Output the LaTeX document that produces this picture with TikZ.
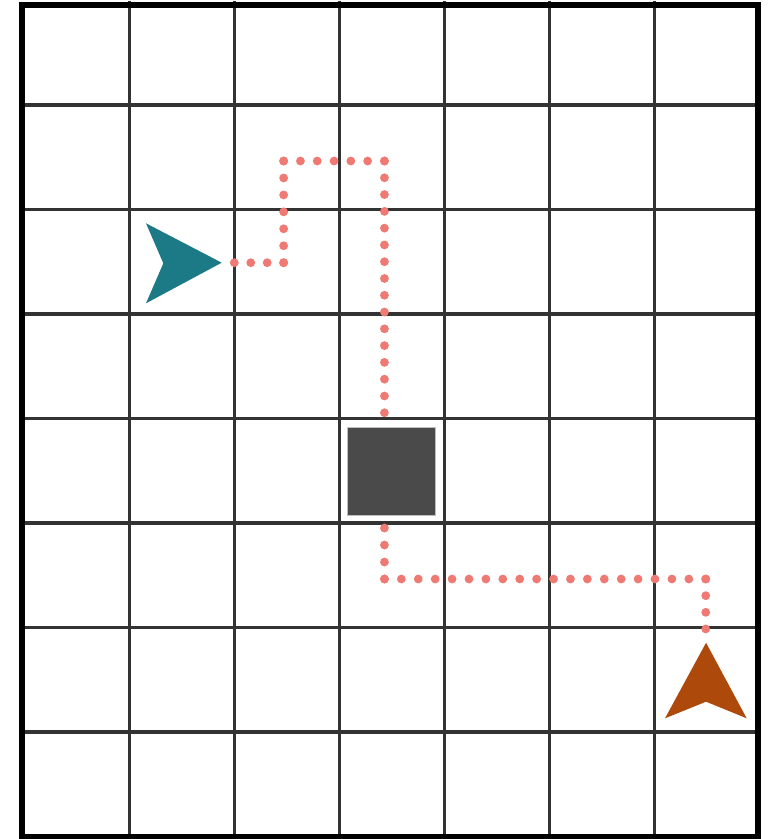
\documentclass[tikz,border=0pt]{standalone}
\usetikzlibrary{calc}

\definecolor{gridline}{HTML}{333333}
\definecolor{agentteal}{HTML}{1B7A86}
\definecolor{agentrust}{HTML}{AD4A0B}
\definecolor{pathdot}{HTML}{EE7A73}
\definecolor{blockgrey}{HTML}{4A4A4A}

% dotted run: start, end, number of gaps
\newcommand{\dotrun}[3]{%
  \foreach \k in {0,...,#3}
    \fill[pathdot] ($(#1)!\k/#3!(#2)$) circle (3.3pt);
}

\begin{document}
\begin{tikzpicture}[
  x=78.75pt,y=-78.375pt,
  gridrule/.style={draw=gridline,line width=2.3pt},
  frame/.style={draw=black,line width=4.5pt},
  block/.style={draw=black!25,line width=0.6pt,fill=blockgrey,
                minimum size=66pt,inner sep=0pt}
]
\useasboundingbox (-0.2314,-0.0048) rectangle (7.121,8.024);

% ---- grid ----
\foreach \c in {1,...,6}
  \draw[gridrule] (\c,0) -- (\c,8);
\foreach \r in {1,...,7}
  \draw[gridrule] (0,\r) -- (7,\r);
\draw[frame] (-0.022,0.043) rectangle (6.988,8.005);

% ---- obstacle ----
\node[block] (wall) at (3.5,4.505) {};

% ---- route waypoints ----
\coordinate (p0) at (2,2.509);
\coordinate (p1) at (2.47,2.509);
\coordinate (p2) at (2.47,1.536);
\coordinate (p3) at (3.43,1.536);
\coordinate (p4) at (3.43,3.945);
\coordinate (q0) at (3.43,5.048);
\coordinate (q1) at (3.43,5.536);
\coordinate (q2) at (6.49,5.536);
\coordinate (q3) at (6.49,6.014);

\dotrun{p0}{p1}{3}
\dotrun{p1}{p2}{6}
\dotrun{p2}{p3}{6}
\dotrun{p3}{p4}{15}
\dotrun{q0}{q1}{3}
\dotrun{q1}{q2}{19}
\dotrun{q2}{q3}{3}

% ---- agents ----
\fill[agentteal] (1.880,2.509) -- (1.159,2.132) -- (1.324,2.515)
  -- (1.159,2.898) -- cycle;
\fill[agentrust] (6.493,6.146) -- (6.880,6.869) -- (6.493,6.710)
  -- (6.102,6.869) -- cycle;

\end{tikzpicture}
\end{document}
